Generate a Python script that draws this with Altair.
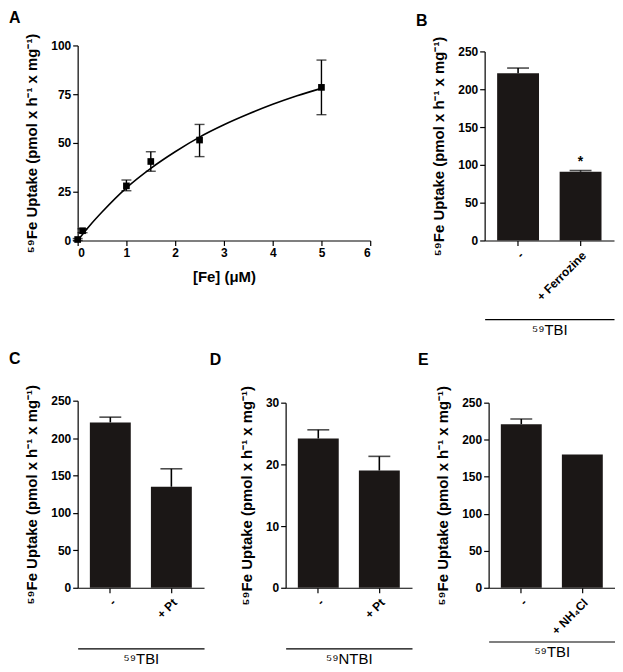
import altair as alt
import pandas as pd

FONT = "Liberation Sans"
YTITLE = "⁵⁹Fe Uptake (pmol x h⁻¹ x mg⁻¹)"
INK = "black"
BAR = "#1b1716"

# ---- Panel A: concentration dependence ----
conc = [0, 0.1, 1, 1.5, 2.5, 5]
uptake = [0.5, 5, 28, 40.5, 51.5, 78.5]
err_lo = [0, 4, 25.5, 35.5, 43, 64.5]
err_hi = [1, 6, 31, 45.5, 59.5, 92.5]
fit_x = [0, 0.25, 0.5, 1, 1.5, 2, 2.5, 3, 3.5, 4, 4.5, 5]
fit_y = [0, 7.7, 14.6, 27, 37, 45.5, 53, 59.3, 64.8, 69.8, 74.2, 78]
a_xticks = [0, 1, 2, 3, 4, 5, 6]
a_yticks = [0, 25, 50, 75, 100]

# ---- Bar panels ----
b_cats = ["-", "+ Ferrozine"]
b_mean = [221, 91]
b_upper = [228, 92.5]
b_star = ["", "*"]

c_cats = ["-", "+ Pt"]
c_mean = [221, 135]
c_upper = [228, 159]

d_cats = ["-", "+ Pt"]
d_mean = [24.2, 19.0]
d_upper = [25.6, 21.3]

e_cats = ["-", "+ NH₄Cl"]
e_mean = [221, 180]
e_upper = [228, None]

ticks250 = [0, 50, 100, 150, 200, 250]
ticks30 = [0, 10, 20, 30]

dfA = pd.DataFrame({"conc": conc, "uptake": uptake, "lo": err_lo, "hi": err_hi})
dfFit = pd.DataFrame({"x": fit_x, "y": fit_y})

axA_x = alt.Axis(values=a_xticks, title="[Fe] (μM)", titleFontSize=15, titlePadding=11)
axA_y = alt.Axis(values=a_yticks, title=YTITLE, titlePadding=11)
scA_x = alt.Scale(domain=[0, 6], nice=False)
scA_y = alt.Scale(domain=[0, 100], nice=False)


def xa(f):
    return alt.X(f, type="quantitative", scale=scA_x, axis=axA_x)


def ya(f):
    return alt.Y(f, type="quantitative", scale=scA_y, axis=axA_y)


fit = alt.Chart(dfFit).mark_line(color=INK, strokeWidth=1.6, interpolate="monotone").encode(
    x=xa("x"), y=ya("y"))
errA = alt.Chart(dfA).mark_rule(color=INK, strokeWidth=1.4).encode(
    x=xa("conc"), y=ya("lo"), y2="hi:Q")
capLo = alt.Chart(dfA).mark_tick(orient="horizontal", size=10, thickness=1.4, color=INK).encode(
    x=xa("conc"), y=ya("lo"))
capHi = alt.Chart(dfA).mark_tick(orient="horizontal", size=10, thickness=1.4, color=INK).encode(
    x=xa("conc"), y=ya("hi"))
pts = alt.Chart(dfA).mark_square(size=45, color=INK, opacity=1).encode(x=xa("conc"), y=ya("uptake"))

panelA = alt.layer(pts, fit, errA, capLo, capHi).properties(
    width=294, height=196,
    title=alt.TitleParams("A", dx=-16, offset=7))


def bar_panel(letter, cats, means, uppers, ymax, yvals, group, group_offset,
              height, range_top=0, stars=None, width=127, title_dx=-16, title_offset=17):
    df = pd.DataFrame({"cat": cats, "mean": means, "upper": uppers})
    if stars is not None:
        df["star"] = stars
    x = alt.X("cat:N", sort=cats,
              scale=alt.Scale(paddingInner=0.33, paddingOuter=0.2),
              axis=alt.Axis(labelAngle=-45, title=None, labelPadding=4, labelFontSize=12))
    ysc = alt.Scale(domain=[0, ymax], nice=False, range=[height, range_top])
    yax = alt.Axis(values=yvals, title=YTITLE, titlePadding=11)

    def yb(f):
        return alt.Y(f, type="quantitative", scale=ysc, axis=yax)

    bars = alt.Chart(df).mark_bar(color=BAR).encode(x=x, y=yb("mean"))
    err = alt.Chart(df).mark_rule(color=INK, strokeWidth=1.6).encode(
        x=x, y=yb("mean"), y2="upper:Q")
    cap = alt.Chart(df).mark_tick(orient="horizontal", size=22, thickness=1.6, color=INK).encode(
        x=x, y=yb("upper"))
    layers = [bars, err, cap]
    if stars is not None:
        st = alt.Chart(df).mark_text(font=FONT, fontSize=14, fontWeight="bold", dy=-2,
                                     baseline="bottom", color=INK).encode(
            x=x, y=yb("upper"), text="star:N")
        layers.append(st)
    inner = alt.layer(*layers)
    grp = alt.Chart(df).mark_point(opacity=0).encode(
        x=alt.XDatum(0.5, type="quantitative", scale=alt.Scale(domain=[0, 1]),
                     axis=alt.Axis(orient="bottom", offset=group_offset, ticks=False, labels=False,
                                   domain=True, title=group, titleFontWeight="normal",
                                   titleFontSize=15, titlePadding=3, domainWidth=1.2)),
        y=yb("mean"))
    return alt.layer(inner, grp).resolve_scale(x="independent").properties(
        width=width, height=height,
        title=alt.TitleParams(letter, dx=title_dx, offset=title_offset))


panelB = bar_panel("B", b_cats, b_mean, b_upper, 250, ticks250, "⁵⁹TBI", 79, 196,
                   range_top=6, stars=b_star, width=130, title_offset=7)
panelC = bar_panel("C", c_cats, c_mean, c_upper, 250, ticks250, "⁵⁹TBI", 61, 188)
panelD = bar_panel("D", d_cats, d_mean, d_upper, 30, ticks30, "⁵⁹NTBI", 61, 188,
                   range_top=2, title_dx=-30)
panelE = bar_panel("E", e_cats, e_mean, e_upper, 250, ticks250, "⁵⁹TBI", 54, 188,
                   range_top=2, title_dx=-18)

top = alt.hconcat(panelA, panelB, spacing=44)
bottom = alt.hconcat(panelC, panelD, panelE, spacing=5)

chart = alt.vconcat(top, bottom, spacing=14).properties(
    padding=0, background="white"
).configure_view(stroke=None).configure_axis(
    domainColor=INK, tickColor=INK, labelColor=INK, titleColor=INK, grid=False,
    labelFont=FONT, titleFont=FONT, labelFontWeight="bold", labelFontSize=12,
    titleFontSize=15, titleFontWeight="bold", tickSize=5, domainWidth=1.2, tickWidth=1.2
).configure_title(font=FONT, fontSize=16, fontWeight="bold", anchor="start", color=INK, frame="bounds")

chart.save("out.html", embed_options={"renderer": "svg", "actions": False})
